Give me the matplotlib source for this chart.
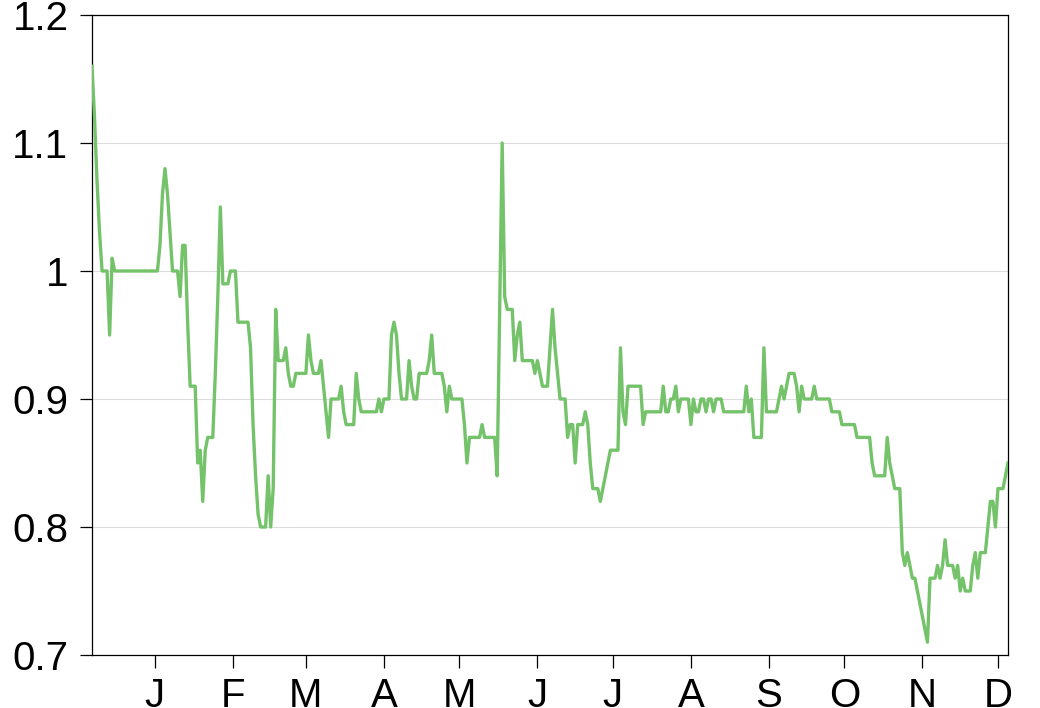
import matplotlib
matplotlib.use("Agg")
import matplotlib.pyplot as plt
import pandas as pd

start_date = "2015-12-07"
# daily values, 2015-12-07 .. 2016-12-05
values = [
    1.16, 1.12, 1.07, 1.03, 1.00, 1.00, 1.00, 0.95, 1.01, 1.00,            # Dec 7-16
    1.00, 1.00, 1.00, 1.00, 1.00, 1.00, 1.00, 1.00, 1.00, 1.00,            # Dec 17-26
    1.00, 1.00, 1.00, 1.00, 1.00, 1.00, 1.00, 1.02, 1.06, 1.08,            # Dec 27 - Jan 5
    1.06, 1.03, 1.00, 1.00, 1.00, 0.98, 1.02, 1.02, 0.96, 0.91,            # Jan 6-15
    0.91, 0.91, 0.85, 0.86, 0.82, 0.86, 0.87, 0.87, 0.87, 0.92,            # Jan 16-25
    0.98, 1.05, 0.99, 0.99, 0.99, 1.00, 1.00, 1.00, 0.96, 0.96,            # Jan 26 - Feb 4
    0.96, 0.96, 0.96, 0.94, 0.88, 0.84, 0.81, 0.80, 0.80, 0.80,            # Feb 5-14
    0.84, 0.80, 0.83, 0.97, 0.93, 0.93, 0.93, 0.94, 0.92, 0.91,            # Feb 15-24
    0.91, 0.92, 0.92, 0.92, 0.92, 0.92, 0.95, 0.93, 0.92, 0.92,            # Feb 25 - Mar 5
    0.92, 0.93, 0.91, 0.89, 0.87, 0.90, 0.90, 0.90, 0.90, 0.91,            # Mar 6-15
    0.89, 0.88, 0.88, 0.88, 0.88, 0.92, 0.90, 0.89, 0.89, 0.89,            # Mar 16-25
    0.89, 0.89, 0.89, 0.89, 0.90, 0.89, 0.90, 0.90, 0.90, 0.95,            # Mar 26 - Apr 4
    0.96, 0.95, 0.92, 0.90, 0.90, 0.90, 0.93, 0.91, 0.90, 0.90,            # Apr 5-14
    0.92, 0.92, 0.92, 0.92, 0.93, 0.95, 0.92, 0.92, 0.92, 0.92,            # Apr 15-24
    0.91, 0.89, 0.91, 0.90, 0.90, 0.90, 0.90, 0.90, 0.88, 0.85,            # Apr 25 - May 4
    0.87, 0.87, 0.87, 0.87, 0.87, 0.88, 0.87, 0.87, 0.87, 0.87,            # May 5-14
    0.87, 0.84, 0.97, 1.10, 0.98, 0.97, 0.97, 0.97, 0.93, 0.95,            # May 15-24
    0.96, 0.93, 0.93, 0.93, 0.93, 0.93, 0.92, 0.93, 0.92, 0.91,            # May 25 - Jun 3
    0.91, 0.91, 0.94, 0.97, 0.94, 0.92, 0.90, 0.90, 0.90, 0.87,            # Jun 4-13
    0.88, 0.88, 0.85, 0.88, 0.88, 0.88, 0.89, 0.88, 0.85, 0.83,            # Jun 14-23
    0.83, 0.83, 0.82, 0.83, 0.84, 0.85, 0.86, 0.86, 0.86, 0.86,            # Jun 24 - Jul 3
    0.94, 0.89, 0.88, 0.91, 0.91, 0.91, 0.91, 0.91, 0.91, 0.88,            # Jul 4-13
    0.89, 0.89, 0.89, 0.89, 0.89, 0.89, 0.89, 0.91, 0.89, 0.89,            # Jul 14-23
    0.90, 0.90, 0.91, 0.89, 0.90, 0.90, 0.90, 0.90, 0.88, 0.90,            # Jul 24 - Aug 2
    0.89, 0.89, 0.90, 0.90, 0.89, 0.90, 0.90, 0.89, 0.90, 0.90,            # Aug 3-12
    0.90, 0.89, 0.89, 0.89, 0.89, 0.89, 0.89, 0.89, 0.89, 0.89,            # Aug 13-22
    0.91, 0.89, 0.90, 0.87, 0.87, 0.87, 0.87, 0.94, 0.89, 0.89,            # Aug 23 - Sep 1
    0.89, 0.89, 0.89, 0.90, 0.91, 0.90, 0.91, 0.92, 0.92, 0.92,            # Sep 2-11
    0.91, 0.89, 0.91, 0.90, 0.90, 0.90, 0.90, 0.91, 0.90, 0.90,            # Sep 12-21
    0.90, 0.90, 0.90, 0.90, 0.89, 0.89, 0.89, 0.89, 0.88, 0.88,            # Sep 22 - Oct 1
    0.88, 0.88, 0.88, 0.88, 0.87, 0.87, 0.87, 0.87, 0.87, 0.87,            # Oct 2-11
    0.85, 0.84, 0.84, 0.84, 0.84, 0.84, 0.87, 0.85, 0.84, 0.83,            # Oct 12-21
    0.83, 0.83, 0.78, 0.77, 0.78, 0.77, 0.76, 0.76, 0.75, 0.74,            # Oct 22-31
    0.73, 0.72, 0.71, 0.76, 0.76, 0.76, 0.77, 0.76, 0.77, 0.79,            # Nov 1-10
    0.77, 0.77, 0.77, 0.76, 0.77, 0.75, 0.76, 0.75, 0.75, 0.75,            # Nov 11-20
    0.77, 0.78, 0.76, 0.78, 0.78, 0.78, 0.80, 0.82, 0.82, 0.80,            # Nov 21-30
    0.83, 0.83, 0.83, 0.84, 0.85,                                          # Dec 1-5
]

month_ticks = ["2016-01-01", "2016-02-01", "2016-03-01", "2016-04-01",
               "2016-05-01", "2016-06-01", "2016-07-01", "2016-08-01",
               "2016-09-01", "2016-10-01", "2016-11-01", "2016-12-01"]
month_labels = ["J", "F", "M", "A", "M", "J", "J", "A", "S", "O", "N", "D"]
y_ticks = [0.7, 0.8, 0.9, 1.0, 1.1, 1.2]
y_labels = ["0.7", "0.8", "0.9", "1", "1.1", "1.2"]

dates = pd.date_range(start_date, periods=len(values), freq="D")

plt.rcParams["font.family"] = ["Liberation Sans", "DejaVu Sans"]

fig = plt.figure(figsize=(10.4, 7.08), dpi=100)
ax = fig.add_axes([92 / 1040, 1 - 655 / 708, (1008 - 92) / 1040, (655 - 15) / 708])

ax.plot(dates, values, color="#74c26a", linewidth=2.4, zorder=3,
        solid_joinstyle="round")

ax.set_xlim(dates[0], dates[-1])
ax.set_ylim(0.7, 1.2)

ax.set_yticks(y_ticks)
ax.set_yticklabels(y_labels)
ax.set_xticks(pd.to_datetime(month_ticks))
ax.set_xticklabels(month_labels)

ax.yaxis.grid(True, color="#dcdcdc", linewidth=0.8, zorder=0)
ax.xaxis.grid(False)
ax.set_axisbelow(True)

for s in ax.spines.values():
    s.set_color("black")
    s.set_linewidth(0.9)

ax.tick_params(axis="both", direction="out", length=9, width=0.9,
               colors="black", labelsize=29)
ax.tick_params(axis="y", pad=8)
ax.tick_params(axis="x", pad=6.5)

fig.savefig("out.png", dpi=100)
